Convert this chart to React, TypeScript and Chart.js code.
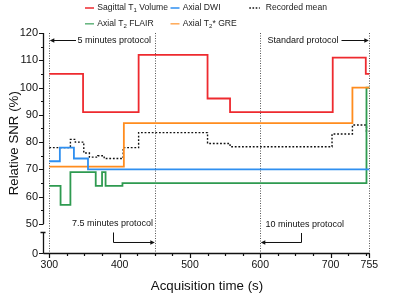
import React, { useEffect, useRef } from "react";
import { Chart, registerables } from "chart.js";

Chart.register(...registerables);

// ---- data (step start times in s, relative SNR in %) ----
const sagittalT1X = [300, 348, 427, 525, 557, 703, 750, 755];
const sagittalT1Y = [105, 91, 112, 96, 91, 111, 105, 105];

const axialDwiX = [300, 315, 335, 355, 755];
const axialDwiY = [73, 78, 74, 70, 70];

const axialFlairX = [300, 316, 330, 366, 375, 380, 404, 751, 755];
const axialFlairY = [64, 57, 69, 64, 69, 64, 65, 100, 100];

const axialGreX = [300, 406, 731, 755];
const axialGreY = [71, 87, 100, 100];

const meanX = [300, 330, 337, 349, 357, 369, 378, 405, 427, 525, 557, 702, 731, 751, 755];
const meanY = [78, 81, 80, 76, 74.5, 75, 74, 78, 83.5, 79.5, 78.3, 83, 86.3, 84, 84];

const seriesLabels = ["Sagittal T₁ Volume", "Axial DWI", "Axial T₂ FLAIR", "Axial T₂* GRE", "Recorded mean"];
const seriesColors = ["#ee2a2f", "#2f8ff0", "#2e9a50", "#ff8c1e", "#111111"];

const xMajorTicks = [300, 400, 500, 600, 700, 755];
const xMinorTicks = [325, 350, 375, 425, 450, 475, 525, 550, 575, 625, 650, 675, 725, 750];
const yMajorTicks = [50, 60, 70, 80, 90, 100, 110, 120];
const yMinorTicks = [55, 65, 75, 85, 95, 105, 115];
const yZeroLabel = "0";
const protocolLines = [300, 450, 600, 755];
const protocolTexts = ["5 minutes protocol", "Standard protocol", "7.5 minutes protocol", "10 minutes protocol"];

// broken axis: value on the scale where "0" is drawn
const Y_ZERO_POS = 39.37;
const X_MIN = 290.6;
const X_MAX = 756;

const FONT = '"Liberation Sans", Arial, Helvetica, sans-serif';
const f = (s: number) => `${s}px ${FONT}`;

function pts(xs: number[], ys: number[]) {
  return xs.map((x, i) => ({ x, y: ys[i] }));
}

// draw text where ₁ ₂ are rendered as subscripts
function richWidth(ctx: CanvasRenderingContext2D, text: string, size: number) {
  let w = 0;
  for (const ch of text) {
    if (ch === "₁" || ch === "₂") {
      ctx.font = f(size * 0.7);
      w += ctx.measureText(ch === "₁" ? "1" : "2").width;
    } else {
      ctx.font = f(size);
      w += ctx.measureText(ch).width;
    }
  }
  return w;
}
function drawRich(ctx: CanvasRenderingContext2D, text: string, x: number, y: number, size: number) {
  let cx = x;
  ctx.textBaseline = "middle";
  ctx.textAlign = "left";
  let buf = "";
  const flush = () => {
    if (!buf) return;
    ctx.font = f(size);
    ctx.fillText(buf, cx, y);
    cx += ctx.measureText(buf).width;
    buf = "";
  };
  for (const ch of text) {
    if (ch === "₁" || ch === "₂") {
      flush();
      ctx.font = f(size * 0.7);
      const s = ch === "₁" ? "1" : "2";
      ctx.fillText(s, cx, y + size * 0.3);
      cx += ctx.measureText(s).width;
    } else buf += ch;
  }
  flush();
  return cx - x;
}

function arrowHead(ctx: CanvasRenderingContext2D, x: number, y: number, dir: number) {
  ctx.beginPath();
  ctx.moveTo(x, y);
  ctx.lineTo(x - dir * 4.5, y - 2.2);
  ctx.lineTo(x - dir * 4.5, y + 2.2);
  ctx.closePath();
  ctx.fill();
}

const overlayPlugin = {
  id: "overlay",
  beforeDatasetsDraw(chart: any) {
    const { ctx, scales } = chart;
    const xs = scales.x, ys = scales.y;
    ctx.save();
    ctx.strokeStyle = "#555";
    ctx.lineWidth = 1;
    ctx.setLineDash([1, 1.5]);
    for (const v of protocolLines) {
      const px = Math.round(xs.getPixelForValue(v)) + 0.5;
      ctx.beginPath();
      ctx.moveTo(px, ys.getPixelForValue(120));
      ctx.lineTo(px, ys.getPixelForValue(Y_ZERO_POS));
      ctx.stroke();
    }
    ctx.restore();
  },
  afterDraw(chart: any) {
    const { ctx, scales } = chart;
    const xs = scales.x, ys = scales.y;
    const ax = Math.round(xs.left) + 0.5;
    const ay = Math.round(ys.getPixelForValue(Y_ZERO_POS)) + 0.5;
    ctx.save();
    ctx.strokeStyle = "#111";
    ctx.fillStyle = "#111";
    ctx.lineWidth = 1.3;
    // y axis upper segment
    ctx.beginPath();
    ctx.moveTo(ax, ys.getPixelForValue(120));
    ctx.lineTo(ax, ys.getPixelForValue(50));
    ctx.stroke();
    // y axis lower segment (after break)
    const breakTop = ys.getPixelForValue(50) + 8.5;
    ctx.beginPath();
    ctx.moveTo(ax, breakTop);
    ctx.lineTo(ax, ay);
    ctx.moveTo(ax - 3, breakTop);
    ctx.lineTo(ax + 2, breakTop);
    ctx.stroke();
    // x axis
    ctx.beginPath();
    ctx.moveTo(ax, ay);
    ctx.lineTo(xs.right, ay);
    ctx.stroke();
    // y ticks
    ctx.lineWidth = 1.2;
    ctx.beginPath();
    for (const v of yMajorTicks) {
      const py = Math.round(ys.getPixelForValue(v)) + 0.5;
      ctx.moveTo(ax - 4.5, py);
      ctx.lineTo(ax, py);
    }
    for (const v of yMinorTicks) {
      const py = Math.round(ys.getPixelForValue(v)) + 0.5;
      ctx.moveTo(ax - 2.5, py);
      ctx.lineTo(ax, py);
    }
    ctx.moveTo(ax - 4.5, ay);
    ctx.lineTo(ax, ay);
    // x ticks
    for (const v of xMajorTicks) {
      const px = Math.round(xs.getPixelForValue(v)) + 0.5;
      ctx.moveTo(px, ay);
      ctx.lineTo(px, ay + 4.5);
    }
    for (const v of xMinorTicks) {
      const px = Math.round(xs.getPixelForValue(v)) + 0.5;
      ctx.moveTo(px, ay);
      ctx.lineTo(px, ay + 2.5);
    }
    ctx.stroke();

    // tick labels
    ctx.fillStyle = "#111";
    ctx.font = f(11);
    ctx.textAlign = "right";
    ctx.textBaseline = "middle";
    for (const v of yMajorTicks) ctx.fillText(String(v), ax - 5.5, ys.getPixelForValue(v));
    ctx.fillText(yZeroLabel, ax - 5.5, ay);
    ctx.font = f(10.5);
    ctx.textAlign = "center";
    ctx.textBaseline = "top";
    for (const v of xMajorTicks) ctx.fillText(String(v), xs.getPixelForValue(v), ay + 6);

    // axis titles
    ctx.font = f(13.3);
    ctx.textAlign = "center";
    ctx.textBaseline = "middle";
    ctx.fillText("Acquisition time (s)", 207, 286.5);
    ctx.save();
    ctx.translate(14, (ys.top + ay) / 2);
    ctx.rotate(-Math.PI / 2);
    ctx.fillText("Relative SNR (%)", 0, 0);
    ctx.restore();

    // protocol annotations
    ctx.font = f(9);
    ctx.lineWidth = 1;
    ctx.strokeStyle = "#111";
    const topY = 40.5;
    const x300 = xs.getPixelForValue(protocolLines[0]);
    const x450 = xs.getPixelForValue(protocolLines[1]);
    const x600 = xs.getPixelForValue(protocolLines[2]);
    const x755 = xs.getPixelForValue(protocolLines[3]);
    ctx.textBaseline = "middle";
    ctx.textAlign = "left";
    ctx.fillText(protocolTexts[0], 77.5, topY);
    ctx.beginPath();
    ctx.moveTo(76, topY);
    ctx.lineTo(x300 + 3, topY);
    ctx.stroke();
    arrowHead(ctx, x300 + 0.5, topY, -1);

    ctx.textAlign = "right";
    ctx.fillText(protocolTexts[1], 338.5, topY);
    ctx.beginPath();
    ctx.moveTo(341.5, topY);
    ctx.lineTo(x755 - 3, topY);
    ctx.stroke();
    arrowHead(ctx, x755 - 0.5, topY, 1);

    const annY = ys.getPixelForValue(50);
    const arrY = annY + 18.5;
    ctx.textAlign = "left";
    ctx.fillText(protocolTexts[2], 72, annY);
    ctx.beginPath();
    ctx.moveTo(113.5, annY + 8.5);
    ctx.lineTo(113.5, arrY);
    ctx.lineTo(x450 - 3, arrY);
    ctx.stroke();
    arrowHead(ctx, x450, arrY, 1);

    ctx.fillText(protocolTexts[3], 265.5, annY + 1);
    ctx.beginPath();
    ctx.moveTo(301.5, annY + 9);
    ctx.lineTo(301.5, arrY);
    ctx.lineTo(x600 + 3, arrY);
    ctx.stroke();
    arrowHead(ctx, x600 + 0.5, arrY, -1);

    // legend
    const legendPos = [
      [85, 7.5],
      [170.5, 7.5],
      [85, 23.3],
      [170.5, 23.3],
      [249.3, 7.5],
    ];
    seriesLabels.forEach((label, i) => {
      const [lx, ly] = legendPos[i];
      ctx.save();
      ctx.strokeStyle = seriesColors[i];
      if (i === 4) {
        ctx.lineWidth = 1.4;
        ctx.setLineDash([1.6, 1.6]);
        ctx.beginPath();
        ctx.moveTo(lx, ly + 0.5);
        ctx.lineTo(lx + 10.5, ly + 0.5);
        ctx.stroke();
      } else {
        ctx.globalAlpha = i >= 2 ? 0.75 : 1;
        ctx.lineWidth = 1.5;
        ctx.beginPath();
        ctx.moveTo(lx, ly + 0.5);
        ctx.lineTo(lx + 9, ly + 0.5);
        ctx.stroke();
      }
      ctx.restore();
      ctx.fillStyle = "#222";
      drawRich(ctx, label, lx + (i === 4 ? 16.5 : 12.3), ly, 8.6);
    });
    ctx.restore();
  },
};

export default function App() {
  const ref = useRef<HTMLCanvasElement | null>(null);
  useEffect(() => {
    if (!ref.current) return;
    const mk = (i: number, xs: number[], ys: number[], extra: any = {}) => ({
      label: seriesLabels[i],
      data: pts(xs, ys),
      borderColor: seriesColors[i],
      backgroundColor: seriesColors[i],
      borderWidth: 1.8,
      pointRadius: 0,
      stepped: "before",
      fill: false,
      ...extra,
    });
    const chart = new Chart(ref.current, {
      type: "line",
      data: {
        datasets: [
          mk(0, sagittalT1X, sagittalT1Y),
          mk(1, axialDwiX, axialDwiY),
          mk(3, axialGreX, axialGreY),
          mk(2, axialFlairX, axialFlairY),
          mk(4, meanX, meanY, { borderWidth: 1.4, borderDash: [1.8, 1.8] }),
        ],
      },
      options: {
        responsive: false,
        animation: false,
        events: [],
        layout: { padding: { left: 42.7, top: 33, right: 30, bottom: 44 } },
        plugins: { legend: { display: false }, tooltip: { enabled: false } },
        scales: {
          x: { type: "linear", min: X_MIN, max: X_MAX, display: false },
          y: { type: "linear", min: Y_ZERO_POS, max: 120, display: false },
        },
      },
      plugins: [overlayPlugin],
    } as any);
    return () => chart.destroy();
  }, []);
  return (
    <div style={{ position: "absolute", left: 0, top: 0, width: 400, height: 297, background: "#fff" }}>
      <canvas ref={ref} width={400} height={297} style={{ width: 400, height: 297 }} />
    </div>
  );
}
